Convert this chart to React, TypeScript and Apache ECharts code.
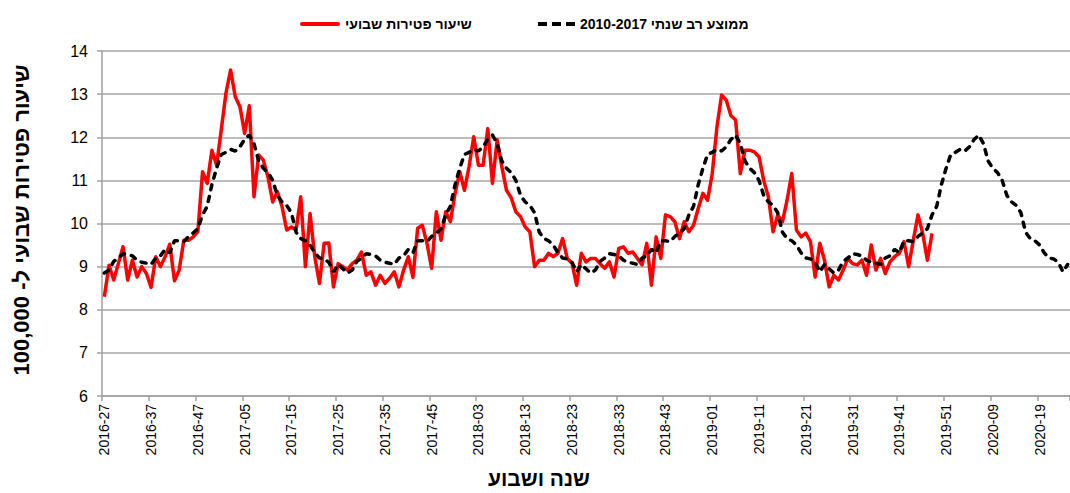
import React, { useEffect, useRef } from "react";
import * as echarts from "echarts";

// Category axis: year-week, starting 2016-27, 52 weeks per year
const START_YEAR = 2016;
const START_WEEK = 27;
const WEEKS_PER_YEAR = 52;
const WEEK_COUNT = 207;

const categories: string[] = Array.from({ length: WEEK_COUNT }, (_, i) => {
  let w = START_WEEK + i;
  let y = START_YEAR;
  while (w > WEEKS_PER_YEAR) {
    w -= WEEKS_PER_YEAR;
    y += 1;
  }
  return `${y}-${String(w).padStart(2, "0")}`;
});

// Weekly mortality rate per 100,000 (2016-27 .. 2019-47)
const weeklyRate: number[] = [
  8.3, 9.03, 8.69, 9.07, 9.46, 8.69, 9.15, 8.76, 9.0, 8.84,
  8.52, 9.23, 9.0, 9.23, 9.52, 8.67, 8.92, 9.61, 9.61, 9.69,
  9.81, 11.2, 10.93, 11.7, 11.35, 12.17, 13.02, 13.56, 12.94, 12.71,
  12.09, 12.73, 10.62, 11.59, 11.47, 11.08, 10.5, 10.74, 10.39, 9.85,
  9.92, 9.85, 10.62, 9.0, 10.23, 9.23, 8.61, 9.54, 9.55, 8.53,
  9.07, 9.0, 8.92, 9.07, 9.15, 9.34, 8.8, 8.88, 8.57, 8.8,
  8.61, 8.73, 8.88, 8.53, 8.92, 9.23, 8.75, 9.89, 9.96, 9.54,
  8.96, 10.27, 9.61, 10.27, 10.04, 10.7, 11.2, 10.77, 11.32, 12.01,
  11.35, 11.35, 12.2, 10.93, 11.94, 11.32, 10.77, 10.6, 10.27, 10.16,
  9.92, 9.81, 9.0, 9.15, 9.15, 9.31, 9.23, 9.31, 9.65, 9.19,
  9.08, 8.57, 9.31, 9.11, 9.19, 9.19, 9.07, 8.96, 9.11, 8.76,
  9.42, 9.46, 9.31, 9.34, 9.19, 9.04, 9.54, 8.57, 9.69, 9.19,
  10.2, 10.16, 10.04, 9.65, 10.04, 9.81, 9.96, 10.35, 10.7, 10.54,
  11.16, 12.24, 12.98, 12.86, 12.5, 12.4, 11.16, 11.7, 11.7, 11.66,
  11.55, 11.0, 10.62, 9.81, 10.2, 10.04, 10.54, 11.16, 9.85, 9.69,
  9.78, 9.58, 8.76, 9.54, 9.15, 8.53, 8.8, 8.69, 8.92, 9.19,
  9.07, 9.04, 9.15, 8.8, 9.5, 8.92, 9.19, 8.84, 9.11, 9.23,
  9.31, 9.58, 9.0, 9.62, 10.2, 9.77, 9.15, 9.77,
];

// Multi-year (2010-2017) average rate by week number 1..52
const multiYearAvgByWeek: number[] = [
  11.65, 11.72, 11.68, 11.78, 11.95, 12.05, 11.85, 11.45, 11.28, 11.18,
  11.0, 10.65, 10.5, 10.42, 10.25, 9.8, 9.65, 9.6, 9.5, 9.32,
  9.2, 9.18, 9.1, 8.88, 9.05, 8.95, 8.85, 8.92, 9.12, 9.2,
  9.3, 9.28, 9.25, 9.15, 9.1, 9.08, 9.05, 9.2, 9.25, 9.4,
  9.32, 9.6, 9.6, 9.58, 9.7, 9.78, 9.88, 10.2, 10.4, 10.9,
  11.28, 11.6,
];

const multiYearAvg: number[] = categories.map(
  (c) => multiYearAvgByWeek[parseInt(c.split("-")[1], 10) - 1]
);

const SERIES_RATE = "שיעור פטירות שבועי";
const SERIES_AVG = "ממוצע רב שנתי 2010-2017";
const Y_TITLE = "שיעור פטירות שבועי ל- 100,000";
const X_TITLE = "שנה ושבוע";

const FONT = "'Liberation Sans', Arial, sans-serif";

export default function App() {
  const ref = useRef<HTMLDivElement>(null);

  useEffect(() => {
    if (!ref.current) return;
    const chart = echarts.init(ref.current, null, { renderer: "svg" });
    const legendText = {
      fontFamily: FONT,
      fontWeight: "bold" as const,
      fontSize: 14,
      color: "#000",
    };
    chart.setOption({
      animation: false,
      backgroundColor: "#fff",
      grid: { left: 102, top: 51, width: 970, height: 345, containLabel: false },
      legend: [
        {
          data: [{ name: SERIES_RATE, icon: "path://M2 0H38A2 2 0 0 1 38 4H2A2 2 0 0 1 2 0Z" }],
          left: 295,
          top: 12,
          itemWidth: 40,
          itemHeight: 4,
          textStyle: legendText,
        },
        {
          data: [
            {
              name: SERIES_AVG,
              icon: "path://M0 0H9V4H0Z M14 0H23V4H14Z M28 0H37V4H28Z",
            },
          ],
          left: 533,
          top: 12,
          itemWidth: 37,
          itemHeight: 4,
          textStyle: legendText,
        },
      ],
      xAxis: {
        type: "category",
        data: categories,
        boundaryGap: true,
        axisLine: { show: true, lineStyle: { color: "#a0a0a0", width: 1.5 } },
        axisTick: { show: true, interval: 9, length: 5, lineStyle: { color: "#a0a0a0", width: 1.5 } },
        axisLabel: {
          interval: 9,
          rotate: 90,
          fontSize: 14,
          fontFamily: FONT,
          color: "#000",
          margin: 8,
        },
        splitLine: { show: false },
      },
      yAxis: {
        type: "value",
        min: 6,
        max: 14,
        interval: 1,
        axisLine: { show: true, lineStyle: { color: "#a0a0a0", width: 1.5 } },
        axisTick: { show: true, length: 5, lineStyle: { color: "#a0a0a0", width: 1.5 } },
        axisLabel: { fontSize: 16, fontFamily: FONT, color: "#000", margin: 14 },
        splitLine: { show: true, lineStyle: { color: "#a6a6a6", width: 1.5 } },
      },
      graphic: [
        {
          type: "text",
          x: 21,
          y: 220,
          rotation: Math.PI / 2,
          style: {
            text: Y_TITLE,
            font: `bold 22px ${FONT}`,
            fill: "#000",
            textAlign: "center",
            textVerticalAlign: "middle",
          },
        },
        {
          type: "text",
          x: 539,
          y: 478,
          style: {
            text: X_TITLE,
            font: `bold 21px ${FONT}`,
            fill: "#000",
            textAlign: "center",
            textVerticalAlign: "middle",
          },
        },
      ],
      series: [
        {
          name: SERIES_RATE,
          type: "line",
          data: weeklyRate,
          symbol: "none",
          lineStyle: { color: "#ff0000", width: 3.5, join: "round" },
          itemStyle: { color: "#ff0000" },
          z: 3,
        },
        {
          name: SERIES_AVG,
          type: "line",
          data: multiYearAvg,
          symbol: "none",
          lineStyle: { color: "#000000", width: 3.5, type: [5, 7], cap: "round" },
          itemStyle: { color: "#000000" },
          z: 4,
        },
      ],
    });
    return () => chart.dispose();
  }, []);

  return (
    <div
      ref={ref}
      style={{ position: "absolute", left: 0, top: 0, width: 1070, height: 493, background: "#fff" }}
    />
  );
}
